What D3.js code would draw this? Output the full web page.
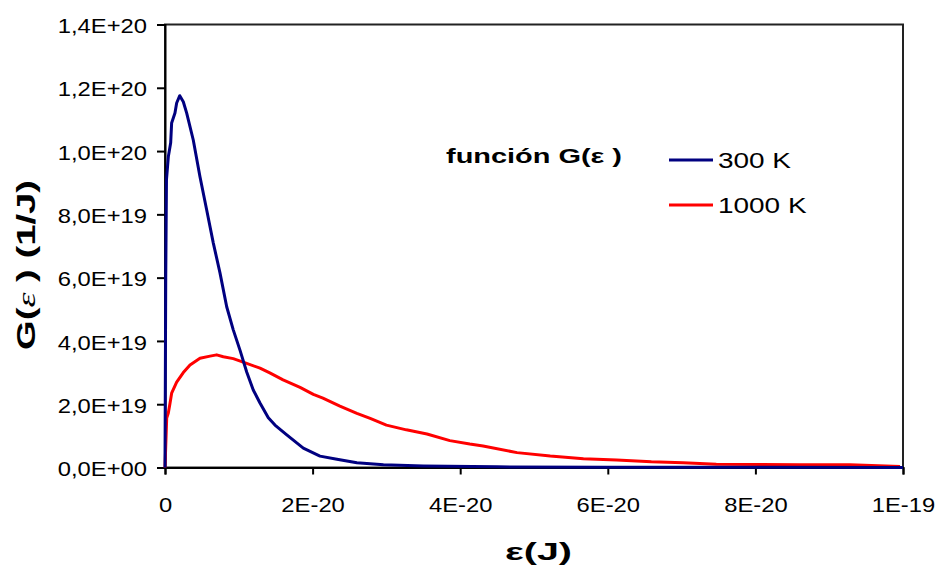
<!DOCTYPE html>
<html>
<head>
<meta charset="utf-8">
<script src="https://cdn.jsdelivr.net/npm/d3@7"></script>
<style>
  body { margin: 0; background: #fff; }
  text { font-family: "Liberation Sans", Arial, sans-serif; fill: #000; }
</style>
</head>
<body>
<div id="chart"></div>
<script>
// Energy values in units of 1E-20 J, G values in units of 1E+19 1/J
var eps300 = [0, 0.005, 0.01, 0.02, 0.045, 0.077, 0.09, 0.135, 0.158, 0.2, 0.248, 0.294, 0.383, 0.474,
  0.565, 0.654, 0.745, 0.836, 0.925, 1.016, 1.107, 1.196, 1.287, 1.4, 1.49, 1.65, 1.874, 2.1, 2.33,
  2.6, 2.96, 3.5, 4.5, 6, 8, 10];
var g300 = [0, 3.0, 6.0, 9.1, 9.82, 10.26, 10.89, 11.2, 11.52, 11.75, 11.56, 11.2, 10.35, 9.19,
  8.14, 7.1, 6.15, 5.08, 4.35, 3.71, 3.02, 2.45, 2.04, 1.57, 1.34, 1.03, 0.61, 0.36, 0.26,
  0.15, 0.09, 0.05, 0.02, 0.01, 0.005, 0.002];

var eps1000 = [0, 0.023, 0.045, 0.068, 0.09, 0.158, 0.248, 0.339, 0.474, 0.61, 0.7, 0.79, 0.925,
  1.107, 1.287, 1.42, 1.6, 1.83, 2.01, 2.14, 2.37, 2.6, 2.78, 3.0, 3.27, 3.55, 3.86, 4.13, 4.31,
  4.77, 5.22, 5.67, 6.12, 6.59, 7.02, 7.47, 8.6, 9.28, 9.96];
var g1000 = [0, 1.56, 1.72, 2.03, 2.35, 2.70, 3.0, 3.24, 3.45, 3.52, 3.56, 3.5, 3.44,
  3.29, 3.14, 2.99, 2.77, 2.53, 2.31, 2.19, 1.94, 1.71, 1.55, 1.34, 1.19, 1.06, 0.85, 0.74, 0.68,
  0.47, 0.36, 0.28, 0.24, 0.18, 0.15, 0.10, 0.09, 0.085, 0.03];

var seriesNames = ["300 K", "1000 K"];

var xTicks = [0, 2e-20, 4e-20, 6e-20, 8e-20, 1e-19];
var xTickLabels = ["0", "2E-20", "4E-20", "6E-20", "8E-20", "1E-19"];
var yTicks = [0, 2e19, 4e19, 6e19, 8e19, 10e19, 12e19, 14e19];
var yTickLabels = ["0,0E+00", "2,0E+19", "4,0E+19", "6,0E+19", "8,0E+19", "1,0E+20", "1,2E+20", "1,4E+20"];

var svgWidth = 935;
var svgHeight = 567;
var margin = { top: 24.5, left: 165, right: 32, bottom: 99.5 };
var width = svgWidth - margin.left - margin.right;
var height = svgHeight - margin.top - margin.bottom;
var stretch = 1.22; // text in the picture is drawn wider than normal

var svg = d3.select("#chart")
  .append("svg")
  .attr("width", svgWidth)
  .attr("height", svgHeight);

var chartGroup = svg.append("g")
  .attr("transform", `translate(${margin.left}, ${margin.top})`);

// Scales
var xScale = d3.scaleLinear().domain([0, 1e-19]).range([0, width]);
var yScale = d3.scaleLinear().domain([0, 1.4e20]).range([height, 0]);

// Plot area border (top and right)
chartGroup.append("rect")
  .attr("x", 0).attr("y", 0)
  .attr("width", width).attr("height", height)
  .attr("fill", "none")
  .attr("stroke", "#222")
  .attr("stroke-width", 2);

// Axes
var bottomAxis = d3.axisBottom(xScale)
  .tickValues(xTicks)
  .tickSize(7)
  .tickPadding(24)
  .tickFormat((d, i) => xTickLabels[i]);

var leftAxis = d3.axisLeft(yScale)
  .tickValues(yTicks)
  .tickSize(8)
  .tickPadding(10)
  .tickFormat((d, i) => yTickLabels[i]);

var xAxisG = chartGroup.append("g")
  .attr("transform", `translate(0, ${height})`)
  .call(bottomAxis);

var yAxisG = chartGroup.append("g")
  .call(leftAxis);

[xAxisG, yAxisG].forEach(function(g) {
  g.select(".domain").attr("stroke", "#000").attr("stroke-width", 2);
  g.selectAll(".tick line").attr("stroke", "#000").attr("stroke-width", 2);
  g.selectAll(".tick text")
    .attr("fill", "#000")
    .style("font-size", "19.5px")
    .style("font-family", "'Liberation Sans', Arial, sans-serif");
});

xAxisG.selectAll(".tick text")
  .attr("transform", `scale(${stretch},1)`)
  .attr("x", 0);

yAxisG.selectAll(".tick text")
  .attr("transform", `scale(${stretch},1)`)
  .attr("x", -18 / stretch)
  .attr("dy", "0.42em");

// Curves
var line = d3.line()
  .x(d => xScale(d[0] * 1e-20))
  .y(d => yScale(d[1] * 1e19));

chartGroup.append("path")
  .datum(d3.zip(eps1000, g1000))
  .attr("d", line)
  .attr("fill", "none")
  .attr("stroke", "#ff0000")
  .attr("stroke-width", 3)
  .attr("stroke-linejoin", "round");

chartGroup.append("path")
  .datum(d3.zip(eps300, g300))
  .attr("d", line)
  .attr("fill", "none")
  .attr("stroke", "#000080")
  .attr("stroke-width", 3)
  .attr("stroke-linejoin", "round");

// Legend
var legendColors = ["#000080", "#ff0000"];
var legend = svg.selectAll(".legend")
  .data(seriesNames)
  .enter()
  .append("g")
  .attr("class", "legend")
  .attr("transform", (d, i) => `translate(669, ${160 + i * 45})`);

legend.append("line")
  .attr("x1", 0).attr("x2", 44)
  .attr("stroke", (d, i) => legendColors[i])
  .attr("stroke-width", 3);

legend.append("text")
  .attr("transform", `translate(49, 0) scale(1.3,1)`)
  .attr("dy", "0.36em")
  .style("font-size", "21.5px")
  .text(d => d);

// Annotation
svg.append("text")
  .attr("x", 446)
  .attr("y", 163)
  .attr("textLength", 176)
  .attr("lengthAdjust", "spacingAndGlyphs")
  .style("font-size", "21px")
  .style("font-weight", "bold")
  .text("función G(ε )");

// Axis titles
svg.append("text")
  .attr("transform", "translate(35, 350) rotate(-90)")
  .attr("textLength", 170)
  .attr("lengthAdjust", "spacingAndGlyphs")
  .style("font-size", "26px")
  .style("font-weight", "bold")
  .html("G(<tspan style='font-style:italic;font-weight:normal;font-family:\"Liberation Serif\"'>ε</tspan> ) (1/J)");

svg.append("text")
  .attr("x", 505)
  .attr("y", 560)
  .attr("textLength", 67)
  .attr("lengthAdjust", "spacingAndGlyphs")
  .style("font-size", "24px")
  .style("font-weight", "bold")
  .text("ε(J)");
</script>
</body>
</html>
